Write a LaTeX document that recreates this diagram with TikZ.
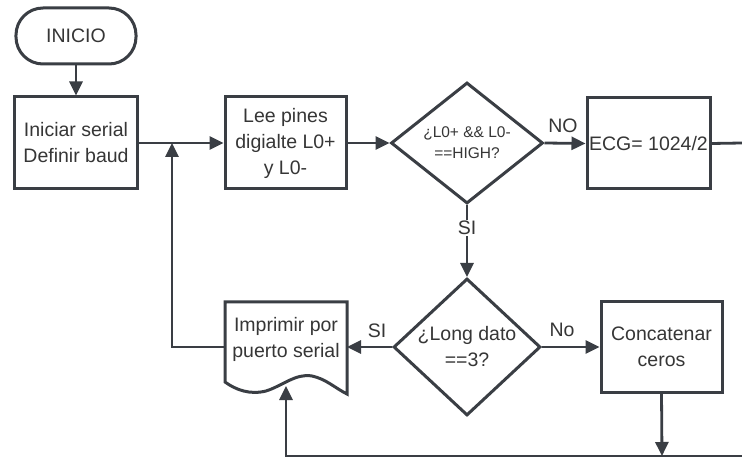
\documentclass[tikz,border=0pt]{standalone}
\usepackage{fontspec}
\setmainfont{Liberation Sans}
\usetikzlibrary{arrows.meta,shapes.geometric}
\definecolor{ink}{HTML}{3A3E44}
\definecolor{txtc}{HTML}{363636}
\tikzset{
  base/.style={draw=ink, line width=3bp, fill=white, text=txtc, inner sep=0pt,
    align=center, font=\fontsize{19.5bp}{26bp}\selectfont},
  proc/.style={base, rectangle},
  term/.style={base, rectangle, rounded corners=27bp, minimum width=120bp, minimum height=56bp},
  dec/.style={base, diamond},
  txt/.style={text=txtc, inner sep=0pt, align=center, font=\fontsize{19.5bp}{26bp}\selectfont},
  small/.style={txt, font=\fontsize{15.5bp}{21bp}\selectfont},
  lbl/.style={txt, fill=white, inner sep=1bp},
  conn/.style={draw=ink, line width=2.8bp, -{Triangle[length=14bp,width=13bp]}},
  wire/.style={draw=ink, line width=2.8bp},
}
\begin{document}
\begin{tikzpicture}[x=1bp,y=-1bp]
\useasboundingbox[fill=white] (0,0) rectangle (742,458);

% blocks
\node[term] (inicio) at (76,36) {INICIO};
\node[proc, minimum width=122bp, minimum height=92bp] (init) at (76,143) {Iniciar serial\\Definir baud};
\node[proc, minimum width=121bp, minimum height=92bp] (read) at (285.5,143) {Lee pines\\digialte L0+\\y L0-};
\node[dec, minimum width=152bp, minimum height=121bp] (high) at (467,143) {};
\node[small] (hight) at (high) {¿L0+ \&\& L0-\\==HIGH?};
\node[proc, minimum width=123bp, minimum height=91bp] (ecg) at (648.5,143.5) {ECG= 1024/2};
\node[dec, minimum width=147bp, minimum height=137bp] (len) at (467,347) {};
\node[txt] (lent) at (len) {¿Long dato\\==3?};
\node[proc, minimum width=121bp, minimum height=90bp] (pad) at (661.5,347) {Concatenar\\ceros};

% document shape for the serial output
\draw[draw=ink, line width=3bp, fill=white, line join=miter]
  (225,302) -- (347,302) -- (347,394)
  .. controls (335,388) and (326,379) .. (312,376)
  .. controls (296,373) and (282,386) .. (266,391)
  .. controls (250,395) and (236,390) .. (225,382) -- cycle;
\node[txt] (print) at (286,339) {Imprimir por\\puerto serial};
\coordinate (docE) at (347,347);
\coordinate (docW) at (225,347);
\coordinate (docB) at (286,386);

% junction points of the loops
\coordinate (join) at (172,143);
\coordinate (loopL) at (172,347);
\coordinate (exitR) at (742,143);
\coordinate (busR) at (742,456);
\coordinate (busD) at (662,456);
\coordinate (busL) at (286,456);

% connectors
\draw[conn] (inicio.south) -- (init.north);
\draw[conn] (init.east) -- (read.west);
\draw[conn] (read.east) -- (high.west);
\draw[conn] (high.east) -- (ecg.west);
\node[txt] (lno) at (563,126) {NO};
\draw[wire] (ecg.east) -- (exitR);
\draw[conn] (high.south) -- (len.north);
\node[lbl] (lsi1) at (467,228) {SI};
\draw[conn] (len.west) -- (docE);
\node[txt] (lsi2) at (377,331) {SI};
\draw[conn] (docW) -- (loopL) -- (join);
\draw[conn] (len.east) -- (pad.west);
\node[txt] (lno2) at (562,330) {No};
\draw[conn] (pad.south) -- (busD);
\draw[conn] (busR) -- (busL) -- (docB);
\end{tikzpicture}
\end{document}
